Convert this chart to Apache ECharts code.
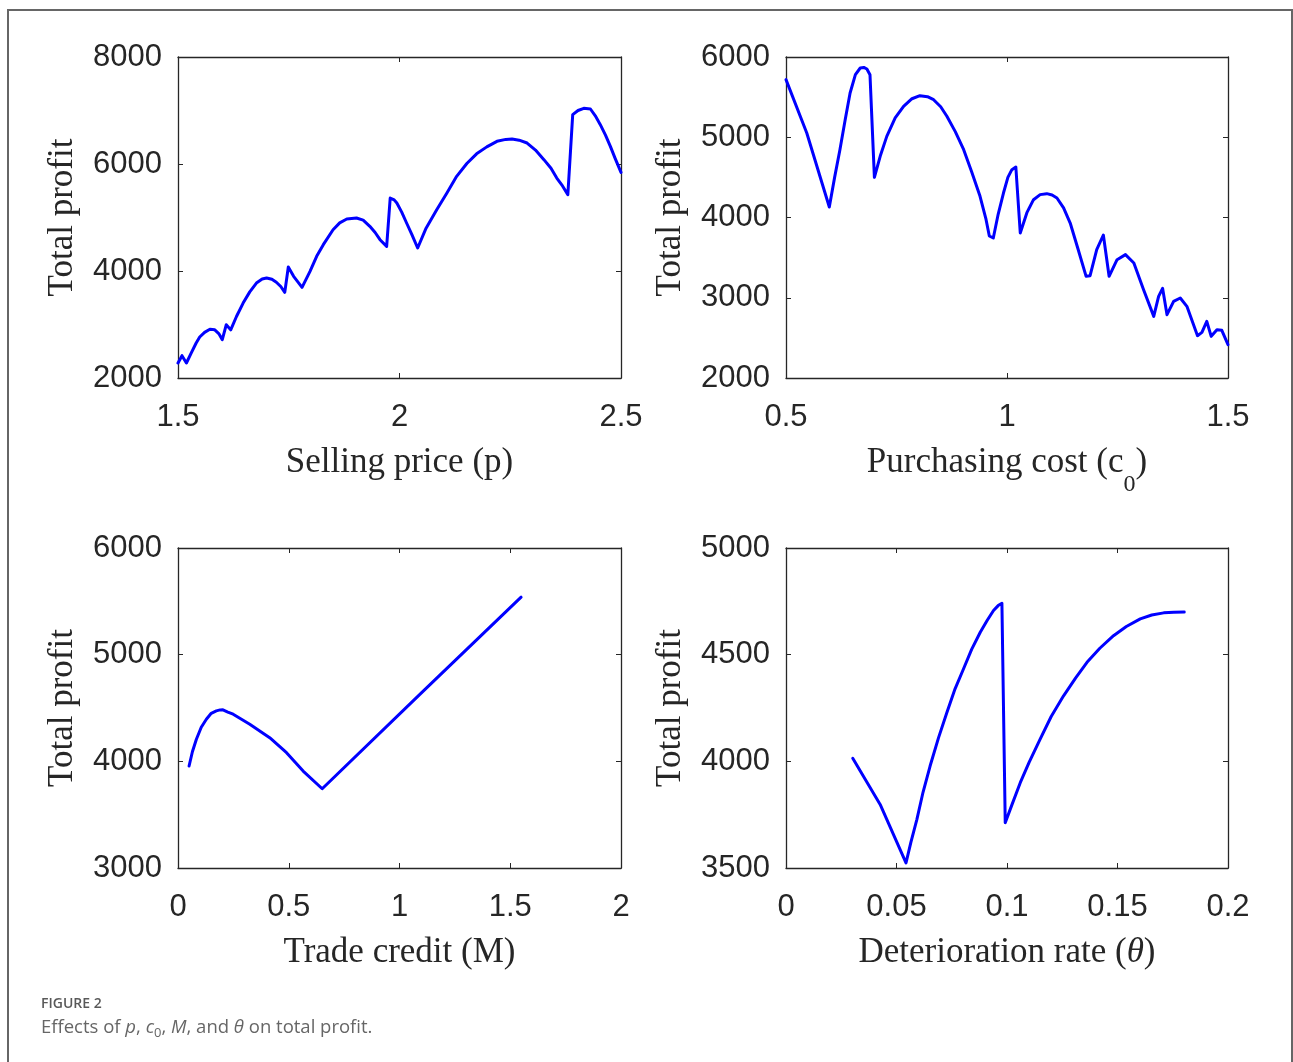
<!DOCTYPE html>
<html><head><meta charset="utf-8">
<script src="https://cdn.jsdelivr.net/npm/echarts@6/dist/echarts.min.js"></script>
<style>html,body{margin:0;padding:0;background:#fff}#c{width:1293px;height:1062px}</style>
</head><body><div id="c"></div>
<script>
// Panel 1: Selling price (p)
const pX = [1.5,1.509,1.519,1.530,1.541,1.549,1.560,1.572,1.583,1.592,1.600,1.609,1.619,1.632,1.647,1.662,1.677,1.690,1.700,1.712,1.722,1.732,1.741,1.749,1.761,1.780,1.798,1.813,1.828,1.850,1.865,1.881,1.903,1.918,1.933,1.945,1.956,1.971,1.979,1.988,1.994,2.005,2.016,2.028,2.041,2.060,2.084,2.107,2.129,2.152,2.174,2.197,2.220,2.240,2.254,2.270,2.288,2.307,2.326,2.342,2.355,2.368,2.380,2.391,2.403,2.416,2.431,2.442,2.453,2.465,2.476,2.487,2.5];
const pY = [2280,2417,2280,2470,2654,2766,2853,2910,2900,2830,2716,2997,2900,3150,3401,3610,3775,3850,3869,3845,3790,3710,3601,4075,3900,3694,3994,4274,4492,4772,4900,4972,4990,4950,4835,4720,4585,4461,5364,5330,5271,5100,4897,4680,4430,4800,5146,5458,5769,6010,6190,6320,6424,6460,6467,6445,6392,6260,6081,5920,5738,5590,5427,6922,7000,7040,7028,6900,6740,6540,6330,6100,5844];
// Panel 2: Purchasing cost (c0)
const cX = [0.5,0.547,0.598,0.610,0.622,0.634,0.645,0.657,0.668,0.676,0.683,0.690,0.700,0.714,0.728,0.747,0.766,0.785,0.803,0.820,0.834,0.850,0.864,0.883,0.902,0.920,0.939,0.952,0.960,0.969,0.980,0.992,1.002,1.011,1.020,1.030,1.045,1.060,1.075,1.090,1.102,1.113,1.128,1.143,1.160,1.179,1.188,1.203,1.218,1.231,1.249,1.268,1.287,1.309,1.332,1.343,1.352,1.362,1.377,1.392,1.407,1.431,1.441,1.452,1.462,1.475,1.486,1.5];
const cY = [5718,5053,4131,4500,4845,5220,5551,5780,5863,5870,5850,5780,4500,4780,5011,5240,5385,5480,5518,5505,5468,5380,5261,5070,4845,4570,4264,3990,3770,3744,4040,4305,4500,4596,4629,3807,4060,4222,4285,4297,4280,4243,4120,3931,3620,3267,3275,3599,3782,3267,3474,3537,3433,3100,2768,3017,3117,2789,2955,2997,2893,2527,2569,2706,2519,2602,2594,2415];
// Panel 3: Trade credit (M)
const mX = [0.050,0.065,0.083,0.105,0.128,0.150,0.173,0.190,0.203,0.225,0.249,0.324,0.414,0.490,0.565,0.651,1.093,1.549];
const mY = [3956,4090,4207,4320,4395,4450,4473,4482,4483,4462,4442,4348,4222,4081,3909,3743,4630,5539];
// Panel 4: Deterioration rate (theta)
const tX = [0.0302,0.0426,0.0543,0.0565,0.0592,0.0620,0.0652,0.0690,0.0728,0.0765,0.0803,0.0840,0.0879,0.0910,0.0939,0.0960,0.0977,0.0992,0.1020,0.1060,0.1100,0.1150,0.1200,0.1256,0.1310,0.1362,0.1420,0.1482,0.1540,0.1603,0.1655,0.1709,0.1755,0.1802];
const tY = [4014,3798,3524,3620,3727,3855,3978,4110,4229,4340,4433,4525,4605,4660,4707,4730,4741,3712,3790,3900,3995,4104,4210,4307,4390,4464,4530,4589,4632,4668,4686,4696,4699,4700];

const xNames = ['{a|Selling price (p)}', '{a|Purchasing cost (c}{s|0}{a|)}', '{a|Trade credit (M)}', '{a|Deterioration rate (}{i|θ}{a|)}'];
const xRanges = [[1.5,2.5,0.5],[0.5,1.5,0.5],[0,2,0.5],[0,0.2,0.05]];
const yRanges = [[2000,8000,2000],[2000,6000,1000],[3000,6000,1000],[3500,5000,500]];
const yName = 'Total profit';

const grids = [
  {left:178, top:57, width:443, height:321},
  {left:786, top:57, width:442, height:321},
  {left:178, top:548, width:443, height:320},
  {left:786, top:548, width:442, height:320}
];
const INK = '#262626';
const fmt = v => String(+(+v).toFixed(4));
const lineSt = {show:true, onZero:false, lineStyle:{color:INK, width:1.3}};
const tickSt = {show:true, inside:true, length:5, lineStyle:{color:INK, width:1}};
const richX = {
  a:{fontFamily:'Liberation Serif', fontSize:35, lineHeight:40, verticalAlign:'top', color:INK},
  s:{fontFamily:'Liberation Serif', fontSize:24, lineHeight:24, padding:[28,0,0,0], verticalAlign:'top', color:INK},
  i:{fontFamily:'Liberation Serif', fontSize:35, lineHeight:40, verticalAlign:'top', fontStyle:'italic', color:INK}
};
const xAxis = [], yAxis = [], series = [];
const datas = [[pX,pY],[cX,cY],[mX,mY],[tX,tY]];
for (let i = 0; i < 4; i++) {
  const [x0,x1,xi] = xRanges[i], [y0,y1,yi] = yRanges[i];
  xAxis.push({gridIndex:i, type:'value', min:x0, max:x1, interval:xi, position:'bottom',
    axisLine:lineSt, axisTick:tickSt, splitLine:{show:false},
    axisLabel:{margin:24, fontFamily:'Liberation Sans', fontSize:31, color:INK, formatter:fmt, showMinLabel:true, showMaxLabel:true},
    name:xNames[i], nameLocation:'middle', nameGap:67, nameTextStyle:{rich:richX}});
  xAxis.push({gridIndex:i, type:'value', min:x0, max:x1, interval:xi, position:'top',
    axisLine:lineSt, axisTick:tickSt, splitLine:{show:false}, axisLabel:{show:false}});
  yAxis.push({gridIndex:i, type:'value', min:y0, max:y1, interval:yi, position:'left',
    axisLine:lineSt, axisTick:tickSt, splitLine:{show:false},
    axisLabel:{margin:16, fontFamily:'Liberation Sans', fontSize:31, color:INK, formatter:fmt, showMinLabel:true, showMaxLabel:true},
    name:yName, nameLocation:'middle', nameGap:98, nameTextStyle:{fontFamily:'Liberation Serif', fontSize:35, color:INK}});
  yAxis.push({gridIndex:i, type:'value', min:y0, max:y1, interval:yi, position:'right',
    axisLine:lineSt, axisTick:tickSt, splitLine:{show:false}, axisLabel:{show:false}});
  const [xs, ys] = datas[i];
  series.push({type:'line', xAxisIndex:2*i, yAxisIndex:2*i, showSymbol:false, symbol:'none', smooth:false,
    clip:false, lineStyle:{color:'#0000ff', width:3, join:'round', cap:'round'}, data: xs.map((x,k)=>[x, ys[k]]), z:5});
}

const chart = echarts.init(document.getElementById('c'), null, {renderer:'canvas'});
chart.setOption({
  backgroundColor:'#ffffff',
  animation:false,
  grid:grids,
  xAxis, yAxis, series,
  graphic:[
    {type:'rect', shape:{x:8, y:10, width:1284, height:1100}, style:{fill:'none', stroke:'#666666', lineWidth:2}, silent:true},
    {type:'text', left:41, top:997, style:{text:'FIGURE 2', font:'600 14px "Open Sans"', fill:'#595959'}},
    {type:'text', left:41, top:1018, style:{
      text:'{n|Effects of }{i|p}{n|, }{i|c}{s|0}{n|, }{i|M}{n|, and }{i|θ}{n| on total profit.}',
      rich:{
        n:{fontFamily:'Open Sans', fontSize:18.5, fill:'#666666', lineHeight:24, verticalAlign:'top'},
        i:{fontFamily:'Open Sans', fontSize:18.5, fontStyle:'italic', fill:'#666666', lineHeight:24, verticalAlign:'top'},
        s:{fontFamily:'Open Sans', fontSize:13, fill:'#666666', lineHeight:16, padding:[9,0,0,0], verticalAlign:'top'}
      }}}
  ]
});
</script></body></html>
